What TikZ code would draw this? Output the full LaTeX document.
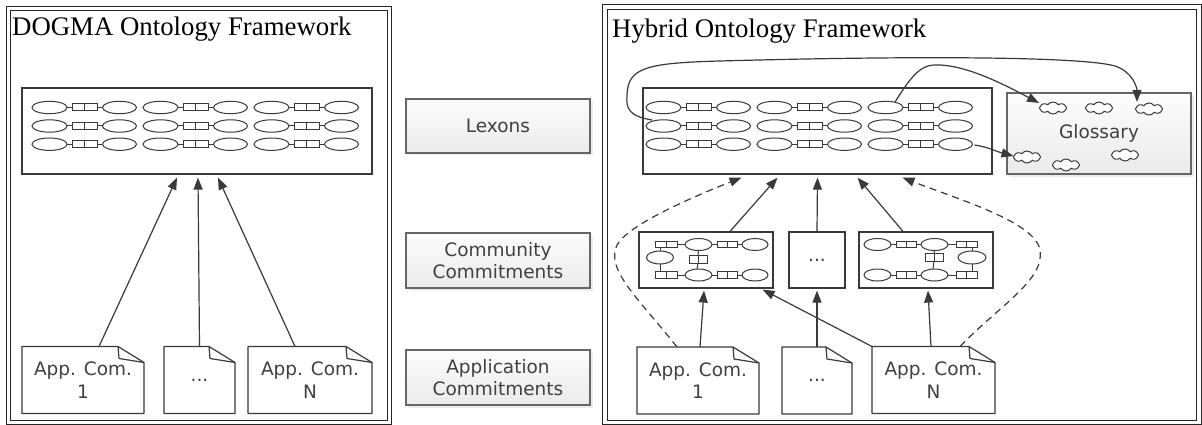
\documentclass[tikz,border=0pt]{standalone}
\usepackage{fontspec}
\setmainfont{Liberation Serif}
\newfontfamily\uifont{DejaVu Sans}
\usetikzlibrary{arrows.meta,shapes.symbols,shadows}

\definecolor{ink}{RGB}{58,58,58}
\definecolor{txt}{RGB}{64,64,64}

% small glyphs used inside the lexon and commitment boxes
\newcommand\lxoval[4]{\draw[glyph] (#1,#2) ellipse [x radius=#3pt, y radius=#4pt];}
\newcommand\lxpair[4]{%
  \draw[glyph] (#1,#3-#4/2) rectangle (#2,#3+#4/2);
  \draw[glyph] ({(#1+#2)/2},#3-#4/2) -- ({(#1+#2)/2},#3+#4/2);}
\newcommand\lexon[2]{%
  \lxoval{#1+17.5}{#2}{17.5}{6.2}
  \draw[glyph] (#1+35,#2) -- (#1+40,#2);
  \lxpair{#1+40}{#1+65}{#2}{7}
  \draw[glyph] (#1+65,#2) -- (#1+70.5,#2);
  \lxoval{#1+87.5}{#2}{17}{6.2}}
% folded-corner outline around a document node
\newcommand\docoutline[1]{%
  \draw[docline] (#1.north west) -- ([xshift=-26pt]#1.north east)
     -- ([yshift=-16pt]#1.north east) -- (#1.south east) -- (#1.south west) -- cycle;
  \draw[docline] ([xshift=-26pt]#1.north east) -- ([xshift=-25pt,yshift=-12pt]#1.north east)
     -- ([yshift=-16pt]#1.north east);}

\begin{document}
\begin{tikzpicture}[x=1pt,y=-1pt,
  glyph/.style={draw=ink, line width=1pt},
  docline/.style={draw=ink, line width=1.2pt, line join=round},
  frame/.style={draw=black!85, double, double distance=3.2pt, line width=1pt,
    inner sep=0pt, outer sep=0pt},
  title/.style={font=\fontsize{26.8}{30}\selectfont, anchor=base west, inner sep=0pt},
  sans/.style={font=\uifont\fontsize{18.5}{22.5}\selectfont, text=txt, align=center},
  lexbox/.style={draw=ink, line width=1.2pt, minimum width=#1, minimum height=86pt,
    inner sep=0pt},
  ccbox/.style={draw=ink, line width=1.2pt, minimum width=#1, minimum height=56pt,
    inner sep=0pt, sans},
  docnode/.style={minimum width=#1, minimum height=67pt, inner sep=0pt, outer sep=0pt, sans},
  labelbox/.style={draw=black!60, line width=1.1pt, top color=black!1, bottom color=black!8,
    drop shadow={shadow xshift=2.5pt, shadow yshift=-2.5pt, opacity=0.15},
    minimum width=184pt, minimum height=#1, inner sep=0pt, sans},
  puff/.style={cloud, cloud puffs=8, cloud puff arc=110, draw=ink, line width=1pt,
    fill=white, minimum width=27pt, minimum height=12pt, inner sep=0pt, aspect=2.2},
  arr/.style={draw=ink, line width=1.2pt, -{Triangle[length=12pt,width=9pt]}},
  dasharr/.style={arr, dash pattern=on 7pt off 5pt},
]
\useasboundingbox (0,0) rectangle (1202,425);
\fill[white] (0,0) rectangle (1202,425);

% ---------------- left framework ----------------
\node[frame, minimum width=380.75pt, minimum height=413.75pt] (fL) at (199.1,215.4) {};
\node[title] (tL) at (12,36) {DOGMA Ontology Framework};

\node[lexbox=350pt] (lexL) at (197,131) {};
\foreach \gx in {32,143,254} \foreach \gy in {107.5,126,144.2} {\lexon{\gx}{\gy}}

\node[docnode=122pt] (dL1) at (83,380) {App. Com.\\1};
\node[docnode=71pt]  (dL2) at (199.5,380) {...};
\node[docnode=124pt] (dL3) at (310,380) {App. Com.\\N};
\docoutline{dL1}\docoutline{dL2}\docoutline{dL3}

\draw[arr] ([xshift=16pt]dL1.north) -- ([xshift=-20pt,yshift=-3pt]lexL.south);
\draw[arr] (dL2.north) -- ([xshift=1pt,yshift=-3pt]lexL.south);
\draw[arr] ([xshift=-15pt]dL3.north) -- ([xshift=21pt,yshift=-3pt]lexL.south);

% ---------------- layer labels ----------------
\node[labelbox=54pt] (lbLex) at (498,126) {Lexons};
\node[labelbox=55pt] (lbCom) at (498,260.5) {Community\\Commitments};
\node[labelbox=55pt] (lbApp) at (498,377.5) {Application\\Commitments};

% ---------------- right framework ----------------
\node[frame, minimum width=594pt, minimum height=415.25pt] (fR) at (902,214.6) {};
\node[title] (tR) at (612,38) {Hybrid Ontology Framework};

\node[lexbox=349pt] (lexR) at (817.5,131) {};
\foreach \gx in {646,757,868} \foreach \gy in {107.5,126,144.2} {\lexon{\gx}{\gy}}

% glossary with its concepts
\node[labelbox=81pt, minimum width=184pt] (gl) at (1099,133.5) {Glossary};
\node[puff] (cl1) at (1053,108) {};
\node[puff] (cl2) at (1099,108) {};
\node[puff] (cl3) at (1149,109) {};
\node[puff] (cl4) at (1027,157) {};
\node[puff] (cl5) at (1066,165) {};
\node[puff] (cl6) at (1125,155) {};

% community commitments
\node[ccbox=134pt] (ccR1) at (706,260) {};
\node[ccbox=56pt]  (ccR2) at (817,260) {...};
\node[ccbox=134pt] (ccR3) at (926,260) {};

% first community commitment
\lxpair{655}{677}{244.5}{6.5}
\draw[glyph] (677,244.5) -- (685,244.5);
\lxoval{698.5}{244.5}{13.5}{6}
\draw[glyph] (712,244.5) -- (717,244.5);
\lxpair{717}{737}{244.5}{6.5}
\draw[glyph] (737,244.5) -- (742,244.5);
\lxoval{755}{244.5}{13}{6}
\lxpair{655}{677}{275}{6.5}
\draw[glyph] (677,275) -- (685,275);
\lxoval{698.5}{275}{13.5}{6}
\draw[glyph] (712,275) -- (717,275);
\lxpair{717}{737}{275}{6.5}
\draw[glyph] (737,275) -- (742,275);
\lxoval{755}{275}{13}{6}
\lxoval{660}{257.5}{13.5}{6.5}
\draw[glyph] (660,247.75) -- (660,251);
\draw[glyph] (660,264) -- (660,271.75);
\lxpair{689}{707}{259}{8}
\draw[glyph] (698.5,250.5) -- (698,255);
\draw[glyph] (698,263) -- (697,269);

% third community commitment
\lxoval{877.5}{244.5}{13.5}{6}
\draw[glyph] (891,244.5) -- (896,244.5);
\lxpair{896}{916}{244.5}{6.5}
\draw[glyph] (916,244.5) -- (921,244.5);
\lxoval{934.5}{244.5}{13.5}{6}
\draw[glyph] (948,244.5) -- (956,244.5);
\lxpair{956}{977}{244.5}{6.5}
\lxoval{877.5}{275}{13.5}{6}
\draw[glyph] (891,275) -- (896,275);
\lxpair{896}{916}{275}{6.5}
\draw[glyph] (916,275) -- (921,275);
\lxoval{934.5}{275}{13.5}{6}
\draw[glyph] (948,275) -- (956,275);
\lxpair{956}{977}{275}{6.5}
\lxoval{972}{257.5}{14}{6.5}
\draw[glyph] (972,247.75) -- (972,251);
\draw[glyph] (972,264) -- (972,271.75);
\lxpair{925}{943}{257}{8}
\draw[glyph] (934.5,250.5) -- (934,253);
\draw[glyph] (934,261) -- (933,269);

% application commitments
\node[docnode=122pt] (dR1) at (698,380.5) {App. Com.\\1};
\node[docnode=70pt]  (dR2) at (817,380.5) {...};
\node[docnode=123pt] (dR3) at (933.5,380) {App. Com.\\N};
\docoutline{dR1}\docoutline{dR2}\docoutline{dR3}

% commitments to lexons
\draw[arr] ([xshift=24pt]ccR1.north) -- ([xshift=-40pt,yshift=-3pt]lexR.south);
\draw[arr] (ccR2.north) -- ([yshift=-3pt]lexR.south);
\draw[arr] ([xshift=-23pt]ccR3.north) -- ([xshift=40pt,yshift=-3pt]lexR.south);

\draw[dasharr] ([xshift=-21pt]dR1.north) .. controls (640,300) and (605,270) .. (617,245)
   .. controls (628,225) and (690,198) .. ([xshift=-76pt,yshift=-3pt]lexR.south);
\draw[dasharr] ([xshift=26.5pt]dR3.north) .. controls (1000,305) and (1045,280) .. (1040,250)
   .. controls (1035,222) and (960,200) .. ([xshift=85pt,yshift=-3pt]lexR.south);

% application to community commitments
\draw[arr] ([xshift=2pt]dR1.north) -- ([xshift=-2pt,yshift=-2pt]ccR1.south);
\draw[arr] (dR2.north) -- ([yshift=-2pt]ccR2.south);
\draw[arr] ([xshift=-2.5pt]dR3.north) -- ([xshift=2pt,yshift=-2pt]ccR3.south);
\draw[arr] (dR3.north west) -- ([xshift=-11pt,yshift=-1pt]ccR1.south east);

% lexon terms to glossary concepts
\coordinate (lxa) at (652,120);
\coordinate (lxb) at (895,102);
\coordinate (lxc) at (974.5,145);
\draw[arr] (lxa) .. controls (628,116) and (626,108) .. (627,95)
   .. controls (628,68) and (645,63) .. (720,61)
   .. controls (900,56) and (1080,56) .. (1115,66)
   .. controls (1133,72) and (1137,88) .. ([xshift=-12pt,yshift=7pt]cl3.center);
\draw[arr] (lxb) .. controls (908,82) and (918,65) .. (935,65)
   .. controls (965,64) and (1005,85) .. ([xshift=-14pt,yshift=5pt]cl1.center);
\draw[arr] (lxc) .. controls (988,147) and (998,152) .. ([xshift=-13.5pt,yshift=1pt]cl4.center);
\end{tikzpicture}
\end{document}
